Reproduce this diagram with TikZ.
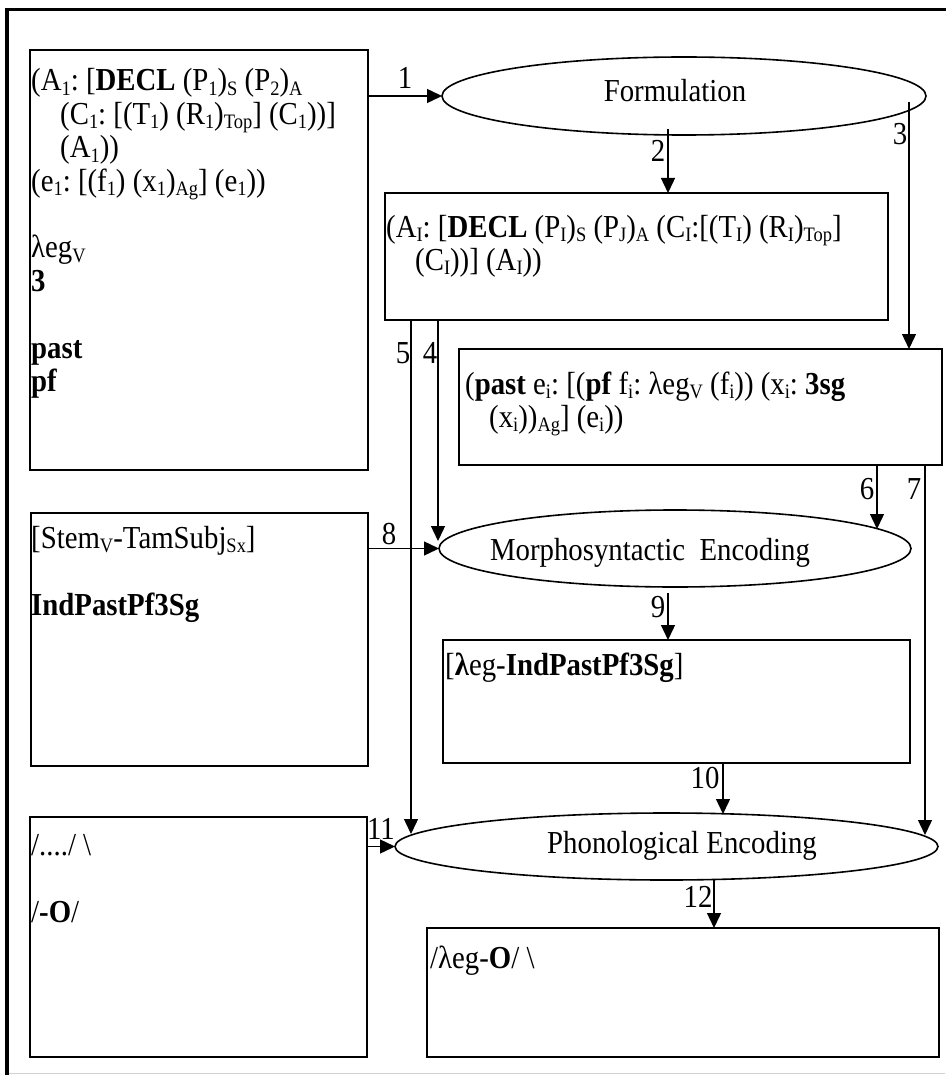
\documentclass[tikz,border=0pt]{standalone}
\usepackage{fontspec}
\setmainfont{Liberation Serif}[FakeStretch=0.9]
\usetikzlibrary{shapes.geometric,arrows.meta}
\newcommand{\sbs}[1]{\raisebox{-4.5pt}{\fontsize{20.5}{20.5}\selectfont #1}}
\newcommand{\mainsize}{\fontsize{32}{33.4}\selectfont\frenchspacing}
\begin{document}
\begin{tikzpicture}[x=1pt,y=-1pt,
  box/.style={draw, line width=1.6pt, inner sep=0pt, outer sep=0pt},
  ell/.style={draw, ellipse, line width=1.6pt, inner sep=0pt, outer sep=0pt},
  txt/.style={anchor=base west, inner sep=0pt, font=\mainsize},
  ctxt/.style={anchor=base, inner sep=0pt, font=\mainsize},
  num/.style={inner sep=0pt, font=\mainsize},
  arr/.style={line width=1.4pt, -{Triangle[length=15pt,width=14pt]}},
]
\useasboundingbox (0,0) rectangle (945,1075);
% outer frame
\draw[line width=3.5pt] (7,1075) -- (7,9.5) -- (947,9.5);
\draw[black!18, line width=1pt] (9,1073.5) -- (945,1073.5);

% boxes
\node[box, minimum width=338, minimum height=420] (B1) at (199,260) {};
\node[box, minimum width=337, minimum height=253] (B2) at (199.5,639.5) {};
\node[box, minimum width=337, minimum height=240] (B3) at (198.5,937) {};
\node[box, minimum width=503, minimum height=127] (AI) at (636.5,256.5) {};
\node[box, minimum width=483, minimum height=116] (PB) at (700.5,407) {};
\node[box, minimum width=467, minimum height=123] (IB) at (676.5,701.5) {};
\node[box, minimum width=512, minimum height=129] (OB) at (683,992.5) {};

% ellipses
\node[ell, minimum width=484, minimum height=78] (F) at (684,96) {};
\node[ell, minimum width=472, minimum height=77] (M) at (675,548.5) {};
\node[ell, minimum width=543, minimum height=67] (P) at (666.5,846.5) {};

% ellipse labels
\node[ctxt] (Ft) at (675,102) {Formulation};
\node[ctxt] (Mt) at (650,560) {Morphosyntactic\ \ Encoding};
\node[ctxt] (Pt) at (682,853) {Phonological Encoding};

% box 1 text
\node[txt] (b1a) at (31,91) {(A\sbs{1}: [\textbf{DECL} (P\sbs{1})\sbs{S} (P\sbs{2})\sbs{A}};
\node[txt] (b1b) at (60,124.4) {(C\sbs{1}: [(T\sbs{1}) (R\sbs{1})\sbs{Top}] (C\sbs{1}))]};
\node[txt] (b1c) at (60,157.8) {(A\sbs{1}))};
\node[txt] (b1d) at (31,191.2) {(e\sbs{1}: [(f\sbs{1}) (x\sbs{1})\sbs{Ag}] (e\sbs{1}))};
\node[txt] (b1e) at (31,258) {λeg\sbs{V}};
\node[txt] (b1f) at (31,291.4) {\textbf{3}};
\node[txt] (b1g) at (31,358.2) {\textbf{past}};
\node[txt] (b1h) at (31,391.6) {\textbf{pf}};

% box AI text
\node[txt] (aia) at (386,237) {(A\sbs{I}: [\textbf{DECL} (P\sbs{I})\sbs{S} (P\sbs{J})\sbs{A} (C\sbs{I}:[(T\sbs{I}) (R\sbs{I})\sbs{Top}]};
\node[txt] (aib) at (415,270.4) {(C\sbs{I}))] (A\sbs{I}))};

% past box text
\node[txt] (pba) at (465,394) {(\textbf{past} e\sbs{i}: [(\textbf{pf} f\sbs{i}: λeg\sbs{V} (f\sbs{i})) (x\sbs{i}: \textbf{3sg}};
\node[txt] (pbb) at (489,427.4) {(x\sbs{i}))\sbs{Ag}] (e\sbs{i}))};

% box 2 text
\node[txt] (b2a) at (31,548) {[Stem\sbs{V}-TamSubj\sbs{Sx}]};
\node[txt] (b2b) at (31,615) {\textbf{IndPastPf3Sg}};

% IB text
\node[txt] (iba) at (445,675) {[\textbf{λ}eg-\textbf{IndPastPf3Sg}]};

% box 3 text
\node[txt] (b3a) at (31,855) {/..../ \textbackslash};
\node[txt] (b3b) at (31,922) {/\textbf{-O}/};

% OB text
\node[txt] (oba) at (430,968) {/λeg-\textbf{O}/ \textbackslash};

% coordinates
\coordinate (s2) at (668,129);
\coordinate (s3) at (909,102);
\coordinate (e4) at (438,541);
\coordinate (e5) at (411,834);
\coordinate (e6) at (877,529);
\coordinate (e7) at (925,835);
\coordinate (s9) at (668,593);
\coordinate (e10) at (723,814);
\coordinate (s12) at (714,880);

% connectors
\draw[arr] (B1.east |- F.west) -- (F.west);
\draw[arr] (s2) -- (s2 |- AI.north);
\draw[arr] (s3) -- (s3 |- PB.north);
\draw[arr] (AI.south -| e4) -- (e4);
\draw[arr] (AI.south -| e5) -- (e5);
\draw[arr] (PB.south -| e6) -- (e6);
\draw[arr] (PB.south -| e7) -- (e7);
\draw[arr] (B2.east |- M.west) -- (M.west);
\draw[arr] (s9) -- (s9 |- IB.north);
\draw[arr] (IB.south -| e10) -- (e10);
\draw[arr] (B3.east |- P.west) -- (P.west);
\draw[arr] (s12) -- (s12 |- OB.north);

% connector labels
\node[num] (n1) at (405,78) {1};
\node[num] (n2) at (658,151) {2};
\node[num] (n3) at (900,134) {3};
\node[num] (n4) at (430,353) {4};
\node[num] (n5) at (403,353) {5};
\node[num] (n6) at (867,489) {6};
\node[num] (n7) at (914,489) {7};
\node[num] (n8) at (389,534) {8};
\node[num] (n9) at (658,607) {9};
\node[num] (n10) at (705,778) {10};
\node[num] (n11) at (381,829) {11};
\node[num] (n12) at (698,897) {12};
\end{tikzpicture}
\end{document}
